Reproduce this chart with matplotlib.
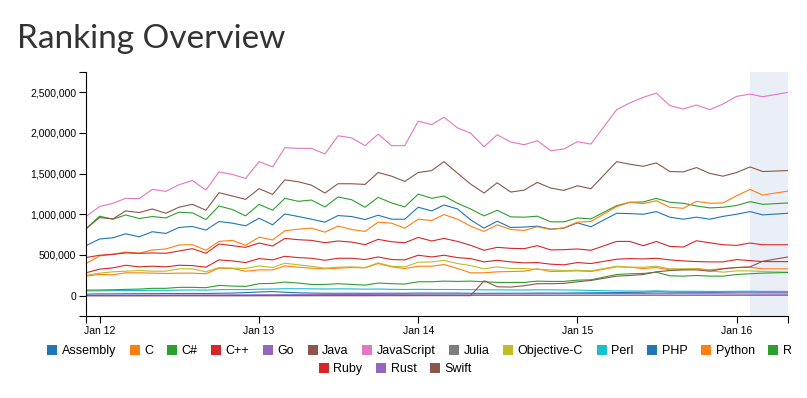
import numpy as np
import pandas as pd
import matplotlib
matplotlib.use("Agg")
import matplotlib.pyplot as plt
import matplotlib.dates as mdates
from matplotlib.patches import Patch
from matplotlib.ticker import FuncFormatter

# monthly snapshots (Mar 2015 and Apr 1 2016 missing), last one is partial
months = pd.date_range("2011-12-01", "2016-03-01", freq="MS")
months = months.drop(pd.Timestamp("2015-03-01")).append(pd.DatetimeIndex(["2016-04-28"]))

# values in thousands
assembly = [20, 22, 22, 24, 24, 25, 26, 26, 27, 26, 30, 32, 38, 45,
            50, 42, 35, 32, 30, 30, 30, 29, 30, 30, 30, 32, 32,
            32, 32, 30, 28, 30, 30, 30, 32, 32, 32, 34, 35,
            38, 40, 42, 48, 44, 42, 42, 40, 42, 44, 45, 44, 44]
c_lang = [240, 261, 256, 281, 281, 277, 273, 277, 277, 269, 338, 334, 301, 317,
          317, 366, 350, 338, 330, 338, 346, 342, 395, 354, 334, 362, 362,
          383, 334, 281, 281, 293, 297, 301, 330, 297, 301, 305, 297,
          354, 350, 334, 346, 317, 322, 334, 317, 334, 345, 350, 330, 330]
csharp = [822, 977, 940, 993, 948, 973, 956, 1026, 1018, 936, 1103, 1058, 981, 1123,
          1050, 1197, 1160, 1176, 1091, 1213, 1180, 1087, 1209, 1140, 1091, 1249, 1197,
          1225, 1136, 1066, 981, 1050, 969, 965, 977, 908, 908, 956, 944,
          1107, 1148, 1152, 1197, 1148, 1136, 1103, 1079, 1087, 1109, 1156, 1123, 1140]
cpp = [281, 326, 342, 374, 354, 362, 354, 374, 370, 350, 440, 427, 407, 456,
       440, 484, 468, 460, 435, 460, 460, 444, 476, 444, 440, 497, 476,
       497, 468, 456, 415, 435, 415, 403, 407, 387, 379, 407, 395,
       448, 456, 452, 460, 440, 427, 419, 415, 415, 444, 431, 419, 419]
go = [4, 5, 5, 6, 6, 7, 7, 8, 8, 8, 9, 10, 10, 11,
      11, 12, 12, 13, 13, 14, 14, 15, 16, 16, 17, 18, 18,
      19, 20, 20, 21, 21, 22, 22, 23, 24, 24, 25, 26,
      27, 28, 28, 29, 29, 30, 30, 31, 31, 32, 33, 33, 33]
java = [822, 960, 944, 1042, 1022, 1066, 1013, 1087, 1123, 1050, 1266, 1225, 1184, 1315,
        1245, 1424, 1400, 1359, 1262, 1376, 1376, 1368, 1514, 1469, 1404, 1514, 1538,
        1648, 1506, 1372, 1262, 1388, 1274, 1298, 1392, 1323, 1294, 1351, 1315,
        1648, 1616, 1591, 1632, 1526, 1522, 1575, 1502, 1469, 1514, 1583, 1526, 1538]
javascript = [973, 1095, 1136, 1197, 1193, 1307, 1282, 1363, 1416, 1298, 1522, 1490, 1441, 1648,
              1583, 1819, 1811, 1811, 1742, 1966, 1941, 1844, 1986, 1844, 1844, 2145, 2104,
              2194, 2063, 1998, 1831, 1978, 1889, 1856, 1905, 1782, 1803, 1893, 1864,
              2287, 2369, 2438, 2491, 2336, 2295, 2344, 2287, 2357, 2450, 2479, 2446, 2499]
julia = [1, 1, 1, 1, 1, 1, 1, 1, 1, 1, 1, 1, 1, 2,
         2, 2, 2, 2, 2, 2, 2, 2, 2, 2, 2, 3, 3,
         3, 3, 3, 3, 3, 3, 3, 3, 3, 3, 3, 3,
         4, 4, 4, 4, 4, 4, 4, 4, 4, 4, 4, 4, 4]
objc = [252, 277, 293, 301, 309, 301, 301, 330, 330, 293, 346, 338, 334, 366,
        346, 399, 379, 362, 338, 350, 354, 346, 403, 362, 354, 411, 415,
        435, 395, 370, 330, 354, 334, 334, 322, 317, 309, 313, 305,
        362, 350, 350, 362, 330, 330, 330, 305, 289, 305, 305, 297, 289]
perl = [58, 60, 62, 63, 64, 66, 66, 68, 70, 68, 74, 75, 74, 80,
        82, 85, 85, 84, 82, 84, 83, 80, 82, 78, 76, 78, 76,
        76, 75, 74, 72, 72, 70, 70, 72, 72, 70, 68, 64,
        58, 57, 56, 60, 55, 54, 54, 52, 52, 54, 55, 53, 52]
php = [615, 696, 712, 761, 724, 786, 765, 838, 851, 806, 912, 891, 859, 952,
       871, 1005, 973, 940, 904, 985, 973, 936, 989, 940, 940, 1087, 1042,
       1115, 1066, 932, 830, 916, 838, 843, 855, 818, 830, 895, 847,
       1013, 1009, 1001, 1034, 965, 940, 965, 940, 975, 1001, 1034, 993, 1013]
python = [395, 488, 509, 537, 521, 562, 574, 623, 627, 558, 667, 680, 619, 720,
          684, 798, 818, 830, 781, 855, 814, 790, 904, 891, 830, 940, 924,
          997, 940, 855, 790, 871, 814, 802, 847, 814, 834, 904, 912,
          1095, 1148, 1131, 1168, 1087, 1074, 1160, 1136, 1140, 1228, 1306, 1237, 1286]
r_lang = [69, 69, 73, 77, 81, 90, 90, 102, 102, 98, 126, 118, 114, 147,
          151, 167, 155, 138, 138, 147, 138, 130, 155, 147, 143, 171, 171,
          179, 175, 179, 171, 163, 163, 163, 179, 175, 175, 191, 195,
          260, 269, 273, 289, 244, 240, 248, 240, 240, 260, 269, 277, 285]
ruby = [468, 497, 509, 525, 521, 525, 521, 549, 578, 521, 635, 615, 594, 647,
        610, 704, 688, 680, 651, 672, 659, 627, 692, 663, 651, 716, 672,
        704, 667, 619, 558, 594, 582, 578, 615, 562, 566, 574, 558,
        667, 667, 614, 667, 606, 598, 675, 650, 626, 618, 647, 626, 626]
rust = [0, 0, 0, 0, 0, 0, 1, 1, 1, 1, 1, 1, 1, 1,
        1, 2, 2, 2, 2, 2, 2, 2, 3, 3, 3, 3, 3,
        3, 4, 4, 4, 4, 4, 5, 5, 5, 5, 5, 6,
        6, 6, 7, 7, 7, 7, 8, 8, 8, 9, 9, 9, 10]
swift = [0, 0, 0, 0, 0, 0, 0, 0, 0, 0, 0, 0, 0, 0,
         0, 0, 0, 0, 0, 0, 0, 0, 0, 0, 0, 0, 0,
         0, 0, 0, 183, 110, 106, 122, 147, 147, 151, 171, 187,
         240, 248, 260, 293, 309, 317, 317, 301, 330, 346, 354, 423, 476]

languages = ["Assembly", "C", "C#", "C++", "Go", "Java", "JavaScript", "Julia",
             "Objective-C", "Perl", "PHP", "Python", "R", "Ruby", "Rust", "Swift"]
series = [assembly, c_lang, csharp, cpp, go, java, javascript, julia,
          objc, perl, php, python, r_lang, ruby, rust, swift]
tab10 = plt.get_cmap("tab10").colors
colors = [tab10[i % 10] for i in range(len(languages))]

tick_font = {"family": ["Liberation Sans", "DejaVu Sans"], "size": 7.5}

fig = plt.figure(figsize=(8.07, 3.98), dpi=100)
ax = fig.add_axes([86 / 807, 1 - 316 / 398, 702 / 807, 244 / 398])

ax.axvspan(pd.Timestamp("2016-02-01"), months[-1], color="#eaeff7", lw=0, zorder=0)

for name, vals, col in zip(languages, series, colors):
    ax.plot(months, np.array(vals) * 1000, color=col, lw=0.8, label=name)

ax.set_xlim(months[0], months[-1])
ax.set_ylim(-250000, 2750000)

ax.set_yticks([0, 500000, 1000000, 1500000, 2000000, 2500000])
ax.set_yticks([-250000, 2750000], minor=True)
ax.yaxis.set_major_formatter(FuncFormatter(lambda v, p: f"{int(v):,}"))

years = pd.date_range("2012-01-01", "2016-01-01", freq="YS")
ax.set_xticks(years)
ax.set_xticks([months[0], months[-1]], minor=True)
ax.xaxis.set_major_formatter(mdates.DateFormatter("%b %y"))

for sp in ["top", "right"]:
    ax.spines[sp].set_visible(False)
for sp in ["left", "bottom"]:
    ax.spines[sp].set_linewidth(0.8)
ax.tick_params(which="both", direction="out", length=5, width=0.8, color="black")
ax.tick_params(axis="both", pad=2)
for lab in ax.get_xticklabels() + ax.get_yticklabels():
    lab.set_fontfamily(tick_font["family"])
    lab.set_fontsize(tick_font["size"])

fig.text(17 / 807, 1 - 48 / 398, "Ranking Overview", fontsize=24,
         family=["Lato", "DejaVu Sans"], color="#333333", va="baseline")

handles = [Patch(facecolor=c, edgecolor="none") for c in colors]
leg_kw = dict(frameon=False, handlelength=0.8, handleheight=0.8, handletextpad=0.35,
              columnspacing=1.1, prop={"family": ["Liberation Sans", "DejaVu Sans"], "size": 9},
              borderaxespad=0, borderpad=0, loc="center")
fig.legend(handles[:13], languages[:13], ncol=13, bbox_to_anchor=(0.52, 1 - 351 / 398), **leg_kw)
fig.legend(handles[13:], languages[13:], ncol=3, bbox_to_anchor=(0.49, 1 - 369 / 398), **leg_kw)

fig.savefig("out.png", dpi=100)
